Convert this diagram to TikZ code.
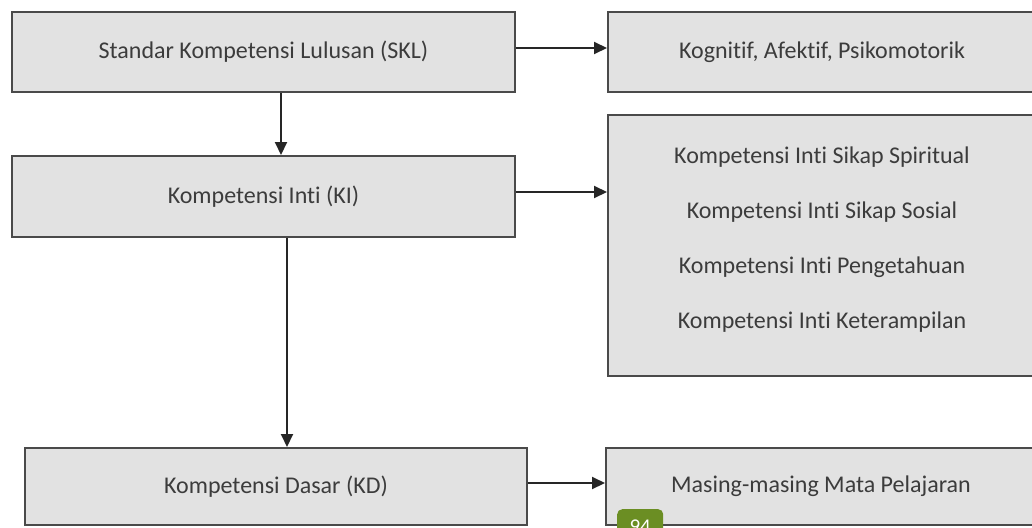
\documentclass[tikz,border=0pt]{standalone}
\usepackage{fontspec}
\setmainfont[Ligatures=NoCommon]{Carlito}
\usetikzlibrary{arrows.meta}
\definecolor{boxfill}{HTML}{E2E2E2}
\definecolor{boxline}{HTML}{4A4A4A}
\definecolor{txt}{HTML}{3C3C3C}
\definecolor{badgegreen}{HTML}{6B8E23}
\tikzset{
  box/.style={draw=boxline, line width=2pt, fill=boxfill, text=txt,
    font=\fontsize{24}{28}\selectfont, inner sep=0pt, anchor=center},
  conn/.style={draw=black!85, line width=2pt, -{Triangle[length=13pt,width=12pt]}},
  listtxt/.style={text=txt, font=\fontsize{24}{55}\selectfont, inner sep=0pt}
}
\begin{document}
\begin{tikzpicture}[x=1pt,y=-1pt]
\useasboundingbox (0,0) rectangle (1032,527);
\clip (0,0) rectangle (1032,527);
\fill[white] (0,0) rectangle (1032,527);
% left column
\node[box, minimum width=503pt, minimum height=80pt] (skl) at (263.5,52) {Standar Kompetensi Lulusan (SKL)};
\node[box, minimum width=503pt, minimum height=81pt] (ki) at (263.5,196.5) {Kompetensi Inti (KI)};
\node[box, minimum width=502pt, minimum height=77pt] (kd) at (276,486.5) {Kompetensi Dasar (KD)};
% right column
\node[box, minimum width=428pt, minimum height=80pt] (kog) at (822,52) {Kognitif, Afektif, Psikomotorik};
\node[box, minimum width=428pt, minimum height=261pt] (kil) at (822,245.5) {};
\node[listtxt, align=center] (kiltext) at ([yshift=6pt]kil.center) {%
  Kompetensi Inti Sikap Spiritual\\
  Kompetensi Inti Sikap Sosial\\
  Kompetensi Inti Pengetahuan\\
  Kompetensi Inti Keterampilan};
\node[box, minimum width=430pt, minimum height=77pt] (mp) at (821,486.5) {Masing-masing Mata Pelajaran};
% connectors
\draw[conn] ([xshift=17.5pt]skl.south) -- ([xshift=17.5pt]ki.north);
\draw[conn] ([xshift=23.5pt]ki.south) -- ([xshift=23.5pt]ki.south |- kd.north);
\draw[conn] ([yshift=4pt]skl.east) -- ([yshift=4pt]skl.east -| kog.west);
\draw[conn] ([yshift=4.5pt]ki.east) -- ([yshift=4.5pt]ki.east -| kil.west);
\draw[conn] ([yshift=3.5pt]kd.east) -- ([yshift=3.5pt]kd.east -| mp.west);
% page badge
\node[fill=badgegreen, rounded corners=5pt, minimum width=46pt, minimum height=34pt,
  anchor=north west, inner sep=0pt, text=white, font=\fontsize{21}{24}\selectfont,
  text depth=0pt] (badge) at (617,509) {94};
\end{tikzpicture}
\end{document}
